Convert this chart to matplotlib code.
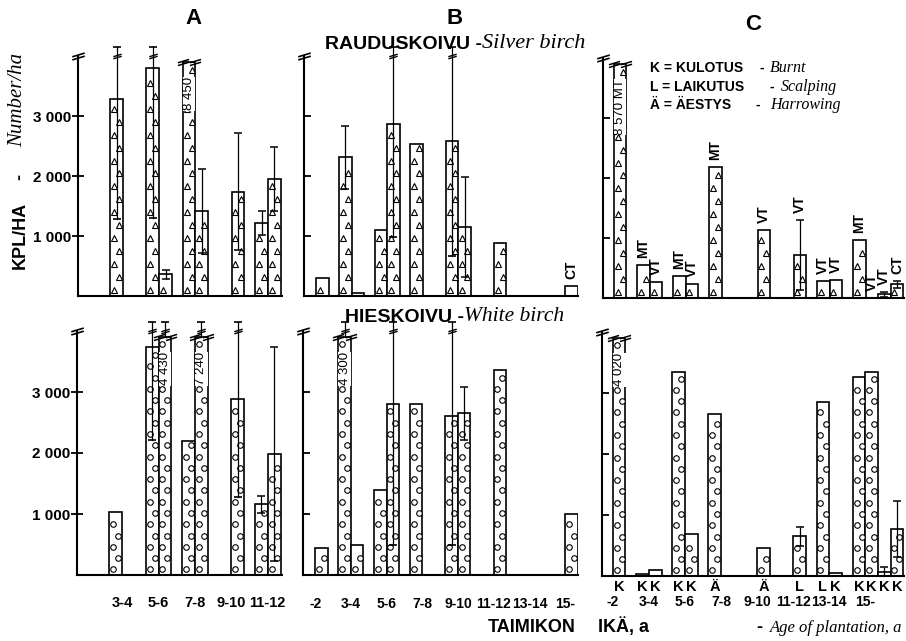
import numpy as np
import matplotlib
matplotlib.use("Agg")
import matplotlib.pyplot as plt
from matplotlib.path import Path

plt.rcParams["font.family"] = ["Liberation Sans", "DejaVu Sans"]

# plants per hectare; top row = silver birch, bottom row = white birch
a_ages = ["3-4", "5-6", "7-8", "9-10", "11-12"]
a_silver_left = [3280, 3800, 8450, None, 1210]
a_silver_left_err = [2000, 2500, None, None, 200]
a_silver_right = [None, 360, 1420, 1740, 1950]
a_silver_right_err = [None, 70, 700, 980, 540]
a_white_left = [1030, 3740, 2190, None, 1160]
a_white_left_err = [None, 1530, None, None, 140]
a_white_right = [None, 4430, 7240, 2880, 1980]
a_white_right_err = [None, 900, 900, 1600, 1750]

b_ages = ["-2", "3-4", "5-6", "7-8", "9-10", "11-12", "13-14", "15-"]
b_silver_left = [None, 2310, 1100, 2540, 2590, None, None, None]
b_silver_left_err = [None, 530, None, None, 1930, None, None, None]
b_silver_right = [300, 55, 2870, None, 1150, 880, None, 165]
b_silver_right_err = [None, None, 1880, None, 830, None, None, None]
b_silver_right_site = [None, None, None, None, None, None, None, "CT"]
b_white_left = [None, 4300, 1400, 2810, 2610, None, None, None]
b_white_left_err = [None, 900, None, None, 2110, None, None, None]
b_white_right = [440, 490, 2810, None, 2650, 3360, None, 1000]
b_white_right_err = [None, None, 2310, None, 440, None, None, None]

# panel C: one entry per bar
c_ages = ["-2", "3-4", "5-6", "7-8", "9-10", "11-12", "13-14", "15-"]
c_group = [0, 1, 1, 2, 2, 3, 4, 5, 6, 6, 7, 7, 7, 7]
c_slot = [0.5, -0.5, 0.5, -0.5, 0.5, -0.5, 0.5, 0.5, -0.5, 0.5, -0.5, 0.5, 1.5, 2.5]
c_method = ["K", "K", "K", "K", "K", "Ä", "Ä", "L", "L", "K", "K", "K", "K", "K"]
c_site = ["MT", "MT", "VT", "MT", "VT", "MT", "VT", "VT", "VT", "VT", "MT", "VT", "VT", "CT"]
c_silver = [8570, 550, 275, 370, 230, 2190, 1130, 715, 290, 300, 960, 0, 65, 230]
c_silver_err = [None, None, None, None, None, None, None, 580, None, None, None, None, 40, 60]
c_white = [4020, 40, 95, 3350, 690, 2660, 460, 650, 2860, 45, 3260, 3340, 65, 775]
c_white_err = [None, None, None, None, None, None, None, 150, None, None, None, None, 85, 460]

W, H = 906, 641
TOP = 4000
BW = 0.35
SERIF = "Liberation Serif"

BREAK = Path([(-1, -0.55), (1, 0.05), (-1, -0.05), (1, 0.55)],
             [Path.MOVETO, Path.LINETO, Path.MOVETO, Path.LINETO])

fig = plt.figure(figsize=(W / 100, H / 100), dpi=100)
bg = fig.add_axes([0, 0, 1, 1])
bg.set_xlim(0, W)
bg.set_ylim(H, 0)
bg.axis("off")


def fmt(v):
    return f"{v:,}".replace(",", " ")


def make_axes(left, right, base, top, xlim, labels):
    ax = fig.add_axes([left / W, 1 - base / H, (right - left) / W, (base - top) / H])
    ax.patch.set_alpha(0)
    ax.set_xlim(*xlim)
    ax.set_ylim(0, TOP)
    for s in ("top", "right"):
        ax.spines[s].set_visible(False)
    for s in ("left", "bottom"):
        ax.spines[s].set_linewidth(1.5)
    ax.set_xticks([])
    ax.set_yticks([1000, 2000, 3000])
    if labels:
        ax.set_yticklabels(["1 000", "2 000", "3 000"], fontsize=11, fontweight="bold")
        ax.tick_params(axis="y", direction="inout", length=8, width=1.3, pad=1)
    else:
        ax.set_yticklabels([])
        ax.tick_params(axis="y", direction="in", length=5, width=1.3)
    ax.plot([xlim[0]], [TOP], ls="none", marker=BREAK, ms=9, mew=1.2,
            color="black", clip_on=False)
    return ax


def draw_bar(ax, x, v, err, mark, site=None):
    top = min(v, TOP - 100)
    if v > 0:
        ax.bar(x, top, BW, color="white", edgecolor="black", lw=1.2, zorder=2)
    step = 215 if mark == "^" else 185
    ys = np.arange(step * 0.5, top - step * 0.3, step)
    xs = x + np.where(np.arange(len(ys)) % 2 == 0, -0.07, 0.07)
    ax.plot(xs, ys, ls="none", marker=mark, ms=4.6 if mark == "^" else 4,
            mfc="white", mec="black", mew=0.8, zorder=3)
    if v > TOP:
        ax.plot([x - BW / 2, x + BW / 2], [top, top], ls="none", marker=BREAK,
                ms=8, mew=1.1, color="black", zorder=4, clip_on=False)
        txt = fmt(v) + (" " + site if site else "")
        ax.text(x, top - 250, txt, rotation=90, ha="center", va="top", fontsize=9.5,
                bbox=dict(fc="white", ec="none", pad=0.3), zorder=4)
    elif site:
        ax.annotate(site, (x, v + (err or 0)), xytext=(0, 5), textcoords="offset points",
                    rotation=90, ha="center", va="bottom", fontsize=10, fontweight="bold")
    if err:
        lo = max(v - err, 0) if v <= TOP else top
        if v + err > TOP:
            ax.plot([x, x], [lo, 4150], color="black", lw=0.9, zorder=5, clip_on=False)
            ax.plot([x], [4000], ls="none", marker=BREAK, ms=6, mew=1, color="black",
                    zorder=5, clip_on=False)
            ax.plot([x], [4150], ls="none", marker="_", ms=6, mew=1.2, color="black",
                    zorder=5, clip_on=False)
            if v <= TOP:
                ax.plot([x], [lo], ls="none", marker="_", ms=6, mew=1.2, color="black", zorder=5)
        else:
            ax.errorbar(x, v, yerr=err, fmt="none", ecolor="black", elinewidth=0.9,
                        capsize=3, capthick=1.1, zorder=5)


def pair_panel(ax, n, left, left_err, right, right_err, mark, right_site=None):
    for i in range(n):
        if left[i] is not None:
            draw_bar(ax, i - BW / 2, left[i], left_err[i], mark)
        if right[i] is not None:
            draw_bar(ax, i + BW / 2, right[i], right_err[i], mark,
                     right_site[i] if right_site else None)


def under(ax, xs, labels, dy, size=10.5):
    for x, s in zip(xs, labels):
        ax.annotate(s, (x, 0), xycoords=ax.get_xaxis_transform(), xytext=(0, dy),
                    textcoords="offset points", ha="center", va="center",
                    fontsize=size, fontweight="bold")


# top row
ax = make_axes(78, 282, 296, 56, (-1.24, 4.39), True)
pair_panel(ax, len(a_ages), a_silver_left, a_silver_left_err,
           a_silver_right, a_silver_right_err, "^")
ax = make_axes(304, 578, 296, 56, (-0.34, 7.36), False)
pair_panel(ax, len(b_ages), b_silver_left, b_silver_left_err,
           b_silver_right, b_silver_right_err, "^", b_silver_right_site)
ax = make_axes(603, 904, 298, 58, (-0.3, 8.07), False)
for i in range(len(c_silver)):
    draw_bar(ax, c_group[i] + c_slot[i] * BW, c_silver[i], c_silver_err[i], "^", c_site[i])

# bottom row
ax = make_axes(77, 282, 575, 331, (-1.24, 4.39), True)
pair_panel(ax, len(a_ages), a_white_left, a_white_left_err,
           a_white_right, a_white_right_err, "o")
under(ax, range(len(a_ages)), a_ages, -20)
ax = make_axes(303, 578, 575, 331, (-0.34, 7.36), False)
pair_panel(ax, len(b_ages), b_white_left, b_white_left_err,
           b_white_right, b_white_right_err, "o")
under(ax, range(len(b_ages)), b_ages, -21, 10)
ax = make_axes(602, 904, 576, 332, (-0.3, 8.07), False)
cx = [c_group[i] + c_slot[i] * BW for i in range(len(c_white))]
for i in range(len(c_white)):
    draw_bar(ax, cx[i], c_white[i], c_white_err[i], "o")
under(ax, cx, c_method, -8)
under(ax, range(len(c_ages)), c_ages, -19, 10)


def chain(x, y, parts):
    t = bg.text(x, y, parts[0][0], ha="left", va="baseline", **parts[0][1])
    for s, kw in parts[1:]:
        t = bg.annotate(s, xy=(1, 0), xycoords=t, ha="left", va="bottom", **kw)


bold = lambda size: dict(fontsize=size, fontweight="bold")
ital = lambda size: dict(fontsize=size, family=SERIF, style="italic")

for s, x, y in (("A", 194, 18), ("B", 455, 18), ("C", 753, 24)):
    bg.text(x, y, s, fontsize=16, fontweight="bold", ha="center", va="center")

chain(325, 49, [("RAUDUSKOIVU -", bold(14)), ("Silver birch", ital(16))])
chain(345, 322, [("HIESKOIVU -", bold(14)), ("White birch", ital(15.5))])

bg.text(488, 632, "TAIMIKON", ha="left", va="baseline", **bold(13))
bg.text(598, 632, "IKÄ, a", ha="left", va="baseline", **bold(13))
bg.text(756, 632, "-", ha="left", va="baseline", **bold(13))
bg.text(770, 632, "Age of plantation, a", ha="left", va="baseline", **ital(12))

for y, name, dash, word, wx in ((72, "K = KULOTUS", 760, "Burnt", 770),
                                (91, "L = LAIKUTUS", 770, "Scalping", 781),
                                (109, "Ä = ÄESTYS", 755, "Harrowing", 770)):
    bg.text(650, y, name, ha="left", va="baseline", **bold(10))
    bg.text(dash, y, "-", ha="left", va="baseline", **bold(10))
    bg.text(wx, y, word, ha="left", va="baseline", **ital(11.5))

bg.text(20, 235, "KPL/HA", rotation=90, ha="center", va="center", **bold(13))
bg.text(20, 177, "-", rotation=90, ha="center", va="center", **bold(13))
bg.text(18, 100, "Number/ha", rotation=90, ha="center", va="center", **ital(15))

fig.savefig("out.png", dpi=100)
